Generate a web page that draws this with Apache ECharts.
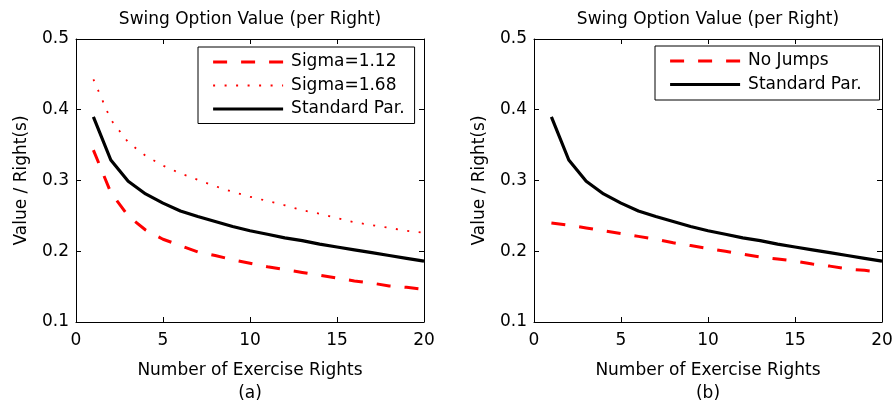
<!DOCTYPE html>
<html>
<head>
	<meta charset="utf-8"/>
	<title>Swing Option Value</title>
	<style>
		* {
			margin: 0;
			padding: 0;
		}
		html, body {
			background: #fff;
		}
		#main {
			width: 896px;
			height: 410px;
		}
	</style>
</head>
<body>

	<div id="main"></div>

	<script src="https://cdn.jsdelivr.net/npm/echarts@6/dist/echarts.min.js"></script>
	<script>
		// number of exercise rights
		var rights = [1, 2, 3, 4, 5, 6, 7, 8, 9, 10, 11, 12, 13, 14, 15, 16, 17, 18, 19, 20];

		// value per right
		var sigma112 = [0.343, 0.283, 0.250, 0.230, 0.217, 0.208, 0.199, 0.194, 0.188, 0.183,
			0.178, 0.174, 0.170, 0.166, 0.162, 0.158, 0.155, 0.151, 0.149, 0.146];
		var sigma168 = [0.443, 0.386, 0.354, 0.335, 0.321, 0.310, 0.301, 0.292, 0.284, 0.277,
			0.271, 0.265, 0.258, 0.253, 0.247, 0.241, 0.237, 0.233, 0.229, 0.226];
		var standardPar = [0.390, 0.329, 0.299, 0.281, 0.268, 0.257, 0.249, 0.242, 0.235, 0.229,
			0.224, 0.219, 0.215, 0.210, 0.206, 0.202, 0.198, 0.194, 0.190, 0.186];
		var noJumps = [0.240, 0.237, 0.233, 0.229, 0.225, 0.221, 0.217, 0.212, 0.208, 0.204,
			0.200, 0.196, 0.192, 0.189, 0.186, 0.182, 0.179, 0.175, 0.173, 0.170];

		var panelTitle = 'Swing Option Value (per Right)';
		var xName = 'Number of Exercise Rights';
		var yName = 'Value / Right(s)';
		var panelTags = ['(a)', '(b)'];

		var font = 'DejaVu Sans';
		var fs = 17;

		function pairs(ys) {
			return rights.map(function (r, i) { return [r, ys[i]]; });
		}

		function xAxis(gi, pos) {
			var bottom = pos === 'bottom';
			return {
				type: 'value', gridIndex: gi, position: pos,
				min: 0, max: 20, interval: 5,
				name: bottom ? xName + '\n' + panelTags[gi] : panelTitle,
				nameLocation: 'middle',
				nameGap: bottom ? 37 : 8,
				nameTextStyle: {
					fontFamily: font, fontSize: fs, color: '#000',
					lineHeight: 23
				},
				axisLine: { show: true, onZero: false, lineStyle: { color: '#000', width: 1 } },
				axisTick: { show: true, inside: true, length: 5, lineStyle: { color: '#000' } },
				axisLabel: {
					show: bottom, margin: 10,
					fontFamily: font, fontSize: fs, color: '#000'
				},
				splitLine: { show: false }
			};
		}

		function yAxis(gi, pos) {
			var left = pos === 'left';
			return {
				type: 'value', gridIndex: gi, position: pos,
				min: 0.1, max: 0.5, interval: 0.1,
				name: left ? yName : '',
				nameLocation: 'middle',
				nameGap: 46,
				nameTextStyle: { fontFamily: font, fontSize: fs, color: '#000' },
				axisLine: { show: true, onZero: false, lineStyle: { color: '#000', width: 1 } },
				axisTick: { show: true, inside: true, length: 5, lineStyle: { color: '#000' } },
				axisLabel: {
					show: left, margin: 7,
					fontFamily: font, fontSize: fs, color: '#000'
				},
				splitLine: { show: false }
			};
		}

		function line(name, xi, ys, color, width, dash) {
			return {
				name: name, type: 'line',
				xAxisIndex: xi, yAxisIndex: xi,
				data: pairs(ys),
				symbol: 'none',
				animation: false,
				lineStyle: { color: color, width: width, type: dash },
				itemStyle: { color: color }
			};
		}

		function legend(left, top, names, padding) {
			return {
				orient: 'vertical', left: left, top: top,
				data: names,
				itemWidth: 70, itemHeight: 18, itemGap: 6.5,
				padding: padding,
				borderColor: '#000', borderWidth: 1, backgroundColor: '#fff',
				selectedMode: false,
				// only the line sample, no marker, same width as the series
				itemStyle: { opacity: 0 },
				lineStyle: { width: 'inherit' },
				textStyle: {
					fontFamily: font, fontSize: fs, color: '#000',
					padding: [0, 0, 0, 3]
				}
			};
		}

		var myChart = echarts.init(document.getElementById('main'));

		var option = {
			backgroundColor: '#fff',
			animation: false,
			grid: [
				{ left: 76, top: 39, width: 348, height: 290 },
				{ left: 534, top: 39, width: 348, height: 290 }
			],
			xAxis: [
				xAxis(0, 'bottom'), xAxis(1, 'bottom'),
				xAxis(0, 'top'), xAxis(1, 'top')
			],
			yAxis: [
				yAxis(0, 'left'), yAxis(1, 'left'),
				yAxis(0, 'right'), yAxis(1, 'right')
			],
			legend: [
				legend(198, 47, ['Sigma=1.12', 'Sigma=1.68', 'Standard Par.'], [6.5, 10, 6, 13.5]),
				legend(655, 46, ['No Jumps', 'Standard Par.'], [6.5, 18, 7, 13.5])
			],
			series: [
				line('Sigma=1.12', 0, sigma112, '#ff0000', 3, [14, 14]),
				line('Sigma=1.68', 0, sigma168, '#ff0000', 1.8, [2, 9.5]),
				line('Standard Par.', 0, standardPar, '#000', 3.2, 'solid'),
				line('No Jumps', 1, noJumps, '#ff0000', 3, [14, 14]),
				line('Standard Par.', 1, standardPar, '#000', 3.2, 'solid')
			]
		};

		myChart.setOption(option);
	</script>
</body>
</html>
